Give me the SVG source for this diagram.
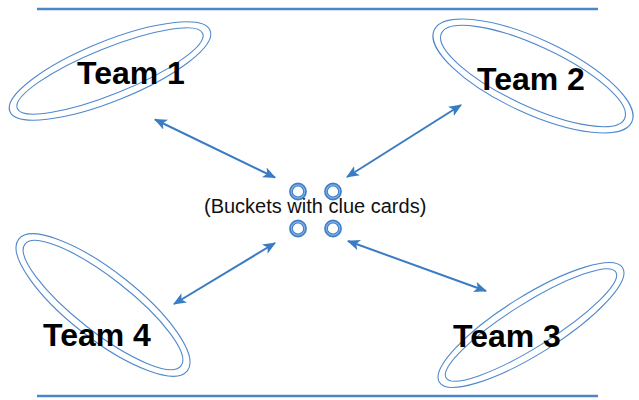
<svg xmlns="http://www.w3.org/2000/svg" width="639" height="400" viewBox="0 0 639 400">
<style>
.rule{stroke:#4a86c8;stroke-width:2.5;fill:none}
.ring{fill:none;stroke:#5089cc;stroke-width:1.1}
.team{font-family:"Liberation Sans",Arial,sans-serif;font-weight:bold;font-size:32px;fill:#000}
.lbl{font-family:"Liberation Sans",Arial,sans-serif;font-size:20px;fill:#111}
.bucket{fill:none;stroke:#3d7ec6;stroke-width:3.8}
.bhl{fill:none;stroke:#7fb0e6;stroke-width:1.2}
.conn{stroke:#3a7cc4;stroke-width:2;fill:none;marker-start:url(#ah);marker-end:url(#ah)}
</style>
<defs>
<marker id="ah" viewBox="0 0 12 10" refX="11" refY="5" markerWidth="6.5" markerHeight="5.5" orient="auto-start-reverse" markerUnits="strokeWidth">
<path d="M0,0 L12,5 L0,10 L3,5 Z" fill="#3a7cc4"/>
</marker>
</defs>
<rect width="639" height="400" fill="#fff"/>
<line class="rule" x1="37" y1="9" x2="598" y2="9"/>
<line class="rule" x1="37" y1="396" x2="598" y2="396"/>
<g id="team1">
<ellipse class="ring" cx="110" cy="71" rx="108" ry="30" transform="rotate(-22 110 71)"/>
<ellipse class="ring" cx="110" cy="71" rx="100" ry="23" transform="rotate(-22 110 71)"/>
<text class="team" x="77" y="84">Team 1</text>
</g>
<g id="team2">
<ellipse class="ring" cx="533" cy="76" rx="109" ry="37" transform="rotate(25 533 76)"/>
<ellipse class="ring" cx="533" cy="76" rx="101" ry="30" transform="rotate(25 533 76)"/>
<text class="team" x="477" y="90">Team 2</text>
</g>
<g id="team4">
<ellipse class="ring" cx="103" cy="305" rx="107" ry="34" transform="rotate(38 103 305)"/>
<ellipse class="ring" cx="103" cy="305" rx="99" ry="27" transform="rotate(38 103 305)"/>
<text class="team" x="43" y="346">Team 4</text>
</g>
<g id="team3">
<ellipse class="ring" cx="531" cy="325" rx="108" ry="29" transform="rotate(-32 531 325)"/>
<ellipse class="ring" cx="531" cy="325" rx="100" ry="22" transform="rotate(-32 531 325)"/>
<text class="team" x="453" y="347">Team 3</text>
</g>
<g id="buckets">
<circle class="bucket" cx="298" cy="191.5" r="7"/>
<circle class="bucket" cx="333" cy="191.5" r="7"/>
<circle class="bucket" cx="298" cy="228.5" r="7"/>
<circle class="bucket" cx="333" cy="228.5" r="7"/>
<circle class="bhl" cx="298" cy="191.5" r="6.7"/>
<circle class="bhl" cx="333" cy="191.5" r="6.7"/>
<circle class="bhl" cx="298" cy="228.5" r="6.7"/>
<circle class="bhl" cx="333" cy="228.5" r="6.7"/>
<text class="lbl" x="204" y="213">(Buckets with clue cards)</text>
</g>
<g id="connectors">
<line class="conn" x1="155" y1="119.5" x2="275" y2="177.5"/>
<line class="conn" x1="461" y1="105" x2="347" y2="177"/>
<line class="conn" x1="275" y1="243" x2="174" y2="304"/>
<line class="conn" x1="348" y1="241" x2="486" y2="291"/>
</g>
</svg>
